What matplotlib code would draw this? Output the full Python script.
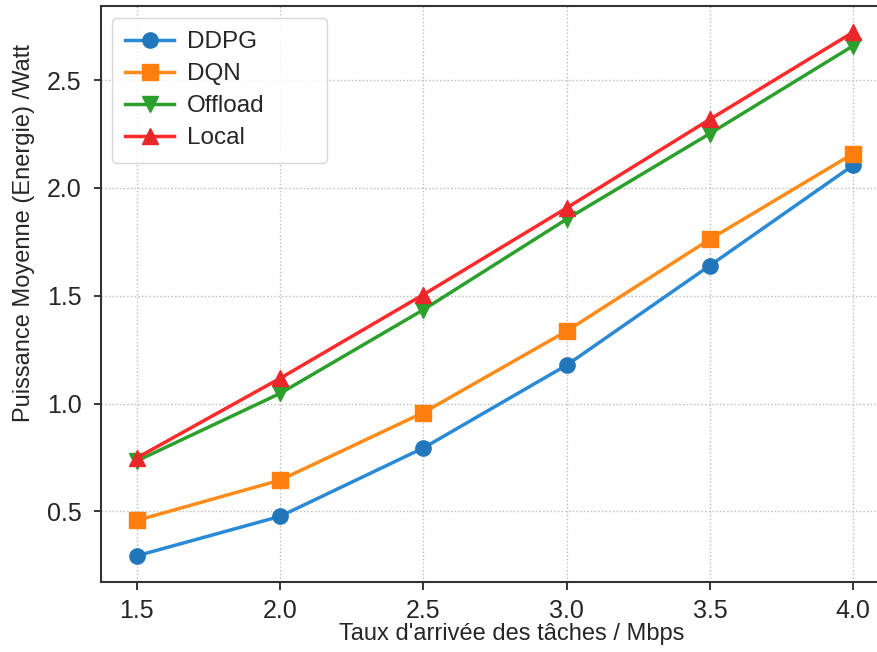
import matplotlib
matplotlib.use("Agg")
import matplotlib.pyplot as plt

x = [1.5, 2.0, 2.5, 3.0, 3.5, 4.0]
ddpg = [0.294, 0.477, 0.794, 1.178, 1.640, 2.105]
dqn = [0.458, 0.645, 0.958, 1.336, 1.762, 2.159]
offload = [0.734, 1.047, 1.435, 1.855, 2.252, 2.659]
local = [0.748, 1.117, 1.505, 1.907, 2.318, 2.722]
labels = ["DDPG", "DQN", "Offload", "Local"]

plt.rcParams['font.family'] = ['Liberation Sans', 'DejaVu Sans']
txt = '#262626'
fig = plt.figure(figsize=(8.78, 6.52), dpi=100)
ax = fig.add_axes([101/878, 1-582/652, 788/878, 576/652])

ax.plot(x, ddpg, color='#2b8ad6', lw=2.5, marker='o', ms=11, mfc='#2277bb', mec='#2277bb', label=labels[0])
ax.plot(x, dqn, color='#ff8c1a', lw=2.5, marker='s', ms=11, mfc='#ff7f0e', mec='#ff7f0e', label=labels[1])
ax.plot(x, offload, color='#2ca02c', lw=2.5, marker='v', ms=12, mfc='#2ca02c', mec='#2ca02c', label=labels[2])
ax.plot(x, local, color='#ff2a2a', lw=2.5, marker='^', ms=12, mfc='#e8272b', mec='#e8272b', label=labels[3])

ax.set_xticks(x)
ax.set_yticks([0.5, 1.0, 1.5, 2.0, 2.5])
ax.grid(True, linestyle=':', color='#bbbbbb', lw=1)
for s in ['left', 'bottom', 'top', 'right']:
    ax.spines[s].set_color('#333333')
    ax.spines[s].set_linewidth(1.5)
ax.tick_params(axis='both', labelsize=18, colors=txt, width=1.3, direction='out')
ax.tick_params(axis='x', length=6, pad=6)
ax.tick_params(axis='y', length=5, pad=9)
ax.set_xlabel("Taux d'arrivée des tâches / Mbps", fontsize=17, color=txt)
ax.set_ylabel("Puissance Moyenne (Energie) /Watt", fontsize=17, color=txt)
ax.xaxis.set_label_coords(0.5216, -0.0712)
ax.yaxis.set_label_coords(-0.0838, 0.606)

# legend box: x 112..327 px, top at 18 px (figure pixels)
x0 = (112 - 101) / 788
w = (327 - 112) / 788
ytop = (582 - 18) / 576
leg = ax.legend(loc='upper left', bbox_to_anchor=(x0, ytop - 0.3, w, 0.3), mode='expand',
                borderaxespad=0, fontsize=17.5, frameon=True, fancybox=True,
                borderpad=0.55, handlelength=2.0, handletextpad=0.55, labelspacing=0.41)
leg.get_frame().set_edgecolor('#cccccc')
for t in leg.get_texts():
    t.set_color(txt)

fig.savefig("out.png", dpi=100)
